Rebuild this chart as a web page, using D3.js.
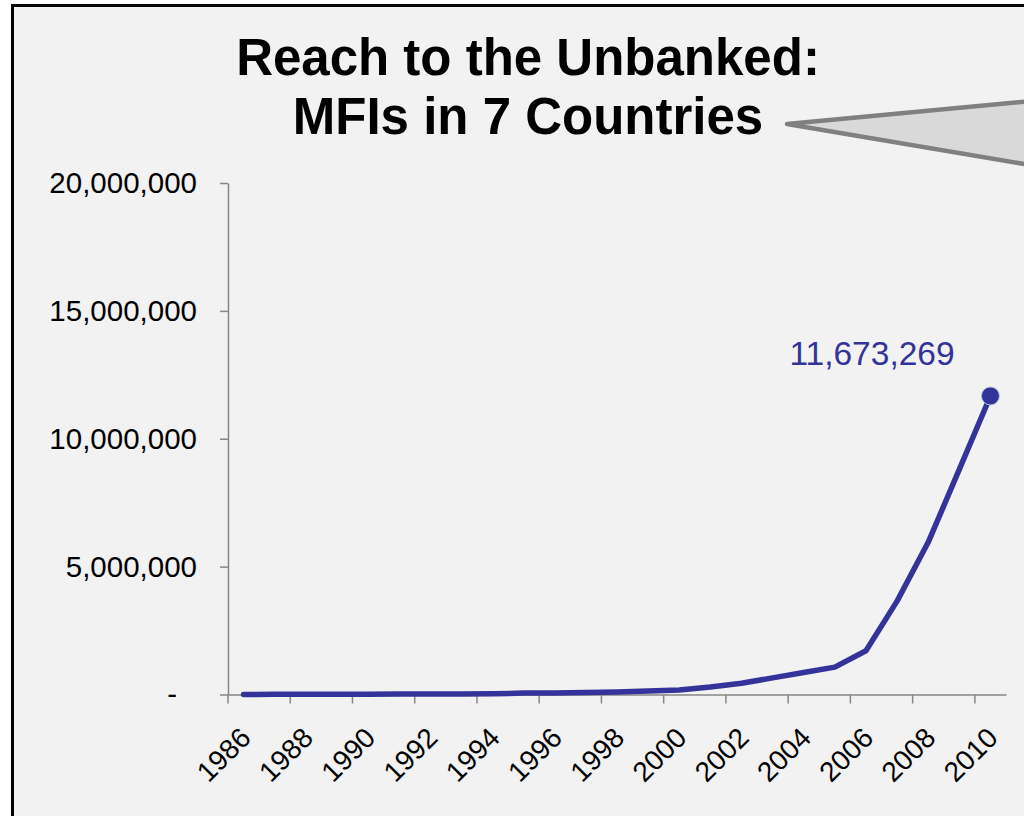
<!DOCTYPE html>
<html>
<head>
<meta charset="utf-8">
<script src="https://cdn.jsdelivr.net/npm/d3@7"></script>
<style>
  body { margin: 0; background: #ffffff; }
  text { font-family: "Liberation Sans", Arial, sans-serif; }
</style>
</head>
<body>
<div id="chart"></div>
<script>
// Chart data
const years = d3.range(1986, 2011);
const clients = [
  2000, 5000, 8000, 10000, 12000, 15000, 18000, 22000, 28000, 55000,
  60000, 75000, 100000, 140000, 180000, 290000, 440000, 650000, 860000, 1070000,
  1710000, 3650000, 5950000, 8800000, 11673269
];
const yTicks = [0, 5000000, 10000000, 15000000, 20000000];
const xTickYears = years.filter(d => d % 2 === 0);
const titleLines = ["Reach to the Unbanked:", "MFIs in 7 Countries"];

const W = 1024, H = 816;
const plot = { left: 228, right: 1006, top: 183, bottom: 694.5 };
const lineColor = "#333399";
const axisColor = "#868686";

const svg = d3.select("#chart").append("svg")
  .attr("width", W)
  .attr("height", H);

// Slide background and frame
svg.append("rect")
  .attr("x", 12.5).attr("y", 5.5)
  .attr("width", 1100).attr("height", 900)
  .attr("fill", "#f2f2f2")
  .attr("stroke", "#000")
  .attr("stroke-width", 3);

// Callout pointer coming in from the right
svg.append("polygon")
  .attr("points", "787,124 1040,100.2 1040,166.7")
  .attr("fill", "#d9d9d9")
  .attr("stroke", "#808080")
  .attr("stroke-width", 4.5)
  .attr("stroke-linejoin", "round");

// Title
svg.append("text")
  .attr("text-anchor", "middle")
  .attr("font-size", 51)
  .attr("font-weight", "bold")
  .attr("fill", "#000")
  .selectAll("tspan")
  .data(titleLines)
  .enter().append("tspan")
  .attr("x", 528)
  .attr("y", (d, i) => 75 + i * 59)
  .text(d => d);

// Scales
const x = d3.scaleBand()
  .domain(years)
  .range([plot.left, plot.right])
  .padding(0);

const y = d3.scaleLinear()
  .domain([0, 20000000])
  .range([plot.bottom, plot.top]);

const bw = x.bandwidth();

// Y axis
const yAxis = d3.axisLeft(y)
  .tickValues(yTicks)
  .tickSize(8)
  .tickSizeOuter(0)
  .tickPadding(23)
  .tickFormat(d => d === 0 ? "-" : d3.format(",")(d));

const gy = svg.append("g")
  .attr("transform", `translate(${plot.left},0)`)
  .call(yAxis);
gy.selectAll("path, line").attr("stroke", axisColor).attr("stroke-width", 1.5);
gy.selectAll("text")
  .attr("font-size", 29.5)
  .attr("fill", "#000")
  .attr("font-family", "\"Liberation Sans\", Arial, sans-serif");
gy.selectAll(".tick").filter(d => d === 0).select("text").attr("x", -51);

// X axis (ticks on category boundaries, labels on category centers)
const xAxis = d3.axisBottom(x)
  .tickValues(xTickYears)
  .tickSize(9)
  .tickSizeOuter(0);

const gx = svg.append("g")
  .attr("transform", `translate(0,${plot.bottom})`)
  .call(xAxis);
gx.selectAll("path, line").attr("stroke", axisColor).attr("stroke-width", 1.5);
gx.selectAll(".tick line").attr("x1", -bw / 2).attr("x2", -bw / 2);
gx.selectAll("text")
  .attr("font-size", 28)
  .attr("fill", "#000")
  .attr("font-family", "\"Liberation Sans\", Arial, sans-serif")
  .attr("text-anchor", "end")
  .attr("x", 0).attr("y", 0).attr("dy", 0)
  .attr("transform", "translate(9,45) rotate(-45)");

// Line
const line = d3.line()
  .x((d, i) => x(years[i]) + bw / 2)
  .y(d => y(d));

svg.append("path")
  .datum(clients)
  .attr("d", line)
  .attr("fill", "none")
  .attr("stroke", lineColor)
  .attr("stroke-width", 5.5)
  .attr("stroke-linejoin", "round")
  .attr("stroke-linecap", "round");

// Last point marker and its label
const last = clients.length - 1;
svg.append("circle")
  .attr("cx", x(years[last]) + bw / 2)
  .attr("cy", y(clients[last]))
  .attr("r", 9)
  .attr("fill", lineColor)
  .attr("stroke", "#a9c4e0")
  .attr("stroke-width", 1);

svg.append("text")
  .attr("x", 872)
  .attr("y", 365)
  .attr("text-anchor", "middle")
  .attr("font-size", 33.5)
  .attr("fill", lineColor)
  .text(d3.format(",")(clients[last]));
</script>
</body>
</html>
